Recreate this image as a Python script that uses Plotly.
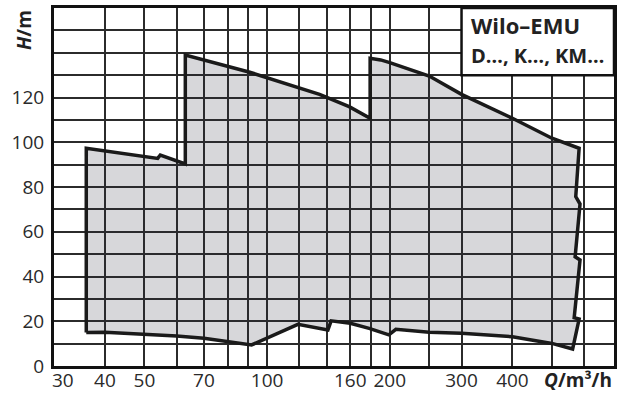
import numpy as np
import plotly.graph_objects as go

# Operating range envelope (Q in m³/h, H in m)
Q = [36, 36, 53.9, 54.7, 63, 63, 90.7, 134.5, 159, 179, 179, 190, 200, 250, 300, 400, 500, 583,
     572, 586, 570, 586, 567, 583, 562, 500, 400, 300, 250, 207, 199, 178, 160, 143.6, 141,
     119, 91.6, 80, 70, 60, 50, 40, 36]
H = [15, 97.3, 92.8, 94.3, 90.3, 139, 131.3, 121.4, 115.9, 110.7, 137.5, 136.8, 135.6, 129.6,
     121.4, 110.7, 101.8, 97.3, 75.7, 72.4, 48.8, 47.4, 21.6, 21.0, 7.6, 10.1, 13.1, 14.6, 15.1,
     16.4, 13.9, 16.8, 19.1, 20.2, 16.1, 18.6, 9.4, 10.9, 12.4, 13.4, 14.3, 15.1, 15]

x_grid = [40, 50, 60, 70, 80, 90, 100, 120, 140, 160, 180, 200, 250, 300, 400, 500, 600]
x_labels = {40: "40", 50: "50", 70: "70", 100: "100", 160: "160",
            200: "200", 300: "300", 400: "400"}
first_x_label = "30"
y_grid = list(range(0, 160, 10))
y_labels = {0: "0", 20: "20", 40: "40", 60: "60", 80: "80", 100: "100", 120: "120"}

X_MIN, X_MAX = 30, 710
xt = [30] + x_grid
fig = go.Figure()
fig.add_trace(go.Scatter(x=Q, y=H, mode="lines", fill="toself",
                         fillcolor="rgba(40,45,60,0.19)", line=dict(color="#1a1a1a", width=3.5),
                         hoverinfo="skip", showlegend=False))

font = "Open Sans"
fig.update_layout(
    width=618, height=397,
    margin=dict(l=54, r=4, t=8, b=31),
    plot_bgcolor="white", paper_bgcolor="white",
    font=dict(family=font, size=19, color="#2a2a2a"),
    xaxis=dict(type="log", range=[np.log10(X_MIN), np.log10(X_MAX)],
               tickvals=xt, ticktext=[x_labels.get(v, "") for v in xt],
               showgrid=True, gridcolor="#2b2b2b", gridwidth=1.6,
               showline=True, linecolor="#111", linewidth=3, mirror=True,
               ticks="", zeroline=False, ticklabelstandoff=-5, automargin=False),
    yaxis=dict(range=[0, 160], tickvals=y_grid,
               ticktext=[y_labels.get(v, "") for v in y_grid],
               showgrid=True, gridcolor="#2b2b2b", gridwidth=1.6,
               showline=True, linecolor="#111", linewidth=3, mirror=True,
               ticks="", zeroline=False, ticklabelstandoff=3, automargin=False),
)

# First x tick label, nudged right of the frame as in the reference
fig.add_annotation(xref="paper", yref="paper", x=(50 - 54) / 560, y=-(380 - 366) / 358,
                   xanchor="left", yanchor="middle", showarrow=False,
                   text=first_x_label, font=dict(family=font, size=19, color="#2a2a2a"))

# Label box (top right)
bx0 = (np.log10(300) - np.log10(X_MIN)) / (np.log10(X_MAX) - np.log10(X_MIN))
fig.add_shape(type="rect", xref="paper", yref="y",
              x0=bx0, x1=1, y0=130, y1=160,
              fillcolor="white", line=dict(color="#111", width=2.5), layer="above")
fig.add_annotation(xref="paper", yref="paper", x=(469 - 54) / 560, y=1 - (25 - 8) / 358,
                   xanchor="left", yanchor="middle", showarrow=False,
                   text="<b>Wilo–EMU</b>", font=dict(family=font, size=22, color="#222"))
fig.add_annotation(xref="paper", yref="paper", x=(469 - 54) / 560, y=1 - (55 - 8) / 358,
                   xanchor="left", yanchor="middle", showarrow=False,
                   text="<b>D…, K…, KM…</b>", font=dict(family=font, size=20, color="#222"))

# Axis titles
fig.add_annotation(xref="paper", yref="paper", x=(614 - 54) / 560, y=-(380 - 366) / 358,
                   xanchor="right", yanchor="middle", showarrow=False,
                   text="<b><i>Q</i>/m³/h</b>", font=dict(family=font, size=19, color="#222"))
fig.add_annotation(xref="paper", yref="paper", x=-(54 - 24) / 560, y=1 - (30 - 8) / 358,
                   xanchor="center", yanchor="middle", showarrow=False, textangle=-90,
                   text="<b><i>H</i>/m</b>", font=dict(family=font, size=19, color="#222"))

fig.write_html("out.html", config={"displayModeBar": False},
               post_script="document.body.style.margin='0';")
